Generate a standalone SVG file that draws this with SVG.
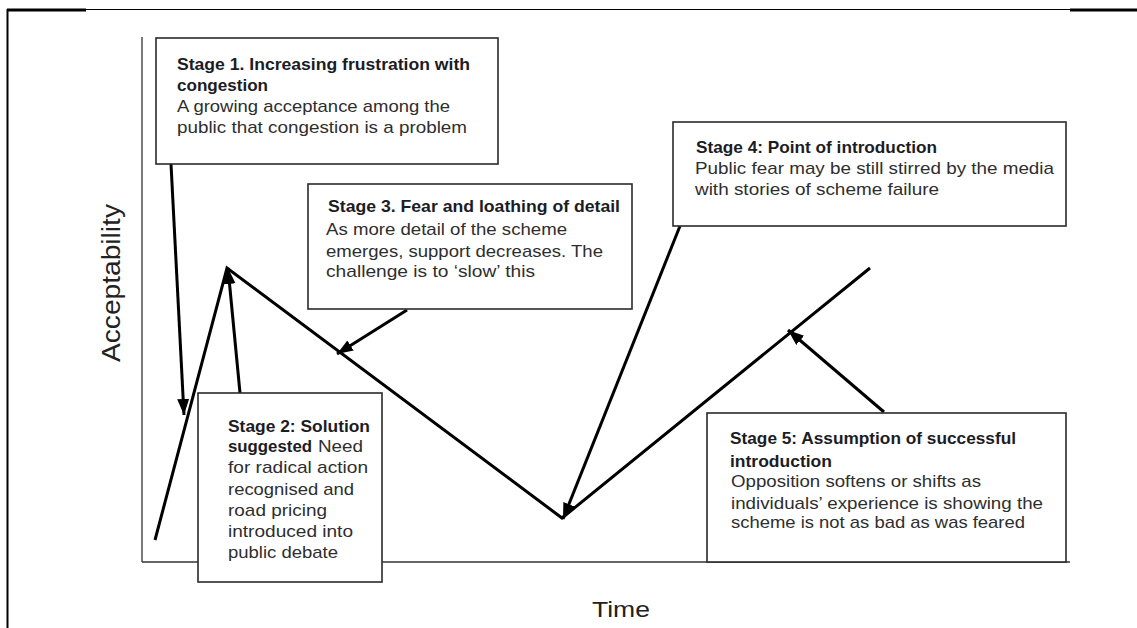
<svg xmlns="http://www.w3.org/2000/svg" width="1137" height="628" viewBox="0 0 1137 628">
  <style>
    .frame { stroke: #000; fill: none; }
    .axis { stroke: #333; stroke-width: 1.3; fill: none; }
    .box { fill: #fff; stroke: #2a2a2a; stroke-width: 1.6; }
    .curve { stroke: #000; stroke-width: 3; fill: none; stroke-linejoin: miter; }
    .conn { stroke: #000; stroke-width: 3; fill: none; marker-end: url(#arrow); }
    .hd { font-family: "Liberation Sans", "DejaVu Sans", sans-serif; font-size: 17px; font-weight: bold; fill: #1c1c24; }
    .tx { font-family: "Liberation Sans", "DejaVu Sans", sans-serif; font-size: 17px; fill: #2e2e2e; }
    .axlabel { font-family: "Liberation Sans", "DejaVu Sans", sans-serif; fill: #222; }
  </style>
  <defs>
    <marker id="arrow" markerUnits="userSpaceOnUse" markerWidth="18" markerHeight="14" refX="16" refY="6" orient="auto">
      <path d="M0,0 L16,6 L0,12 Z" fill="#000"/>
    </marker>
  </defs>

  <rect width="1137" height="628" fill="#fff"/>

  <!-- page frame -->
  <g id="frame">
    <line class="frame" x1="7" y1="9.5" x2="1137" y2="9.5" stroke-width="1"/>
    <line class="frame" x1="7" y1="10" x2="86" y2="10" stroke-width="3"/>
    <line class="frame" x1="1070" y1="10" x2="1137" y2="10" stroke-width="3"/>
    <line class="frame" x1="7.5" y1="9" x2="7.5" y2="628" stroke-width="2"/>
  </g>

  <!-- axes -->
  <g id="axes">
    <line class="axis" x1="142" y1="37" x2="142" y2="562"/>
    <line class="axis" x1="142" y1="562" x2="1070" y2="562"/>
    <text class="axlabel" font-size="25" text-anchor="middle" transform="translate(120,283) rotate(-90)" textLength="158" lengthAdjust="spacingAndGlyphs">Acceptability</text>
    <text class="axlabel" font-size="22" x="592" y="617" textLength="58" lengthAdjust="spacingAndGlyphs">Time</text>
  </g>

  <!-- acceptability curve -->
  <g id="curve">
    <polyline class="curve" points="155,540 227,268 562,518 870,268"/>
  </g>

  <!-- connectors from stage boxes to the curve -->
  <g id="connectors">
    <line class="conn" x1="171" y1="164" x2="184" y2="415"/>
    <line class="conn" x1="240" y1="393" x2="228" y2="268"/>
    <line class="conn" x1="407" y1="310" x2="337" y2="354"/>
    <line class="conn" x1="680" y1="226" x2="563" y2="519"/>
    <line class="conn" x1="884" y1="412" x2="788" y2="330"/>
  </g>

  <g id="stage1">
    <rect class="box" x="156" y="38" width="342" height="126"/>
    <text class="hd" x="177" y="70" textLength="293" lengthAdjust="spacingAndGlyphs">Stage 1. Increasing frustration with</text>
    <text class="hd" x="177" y="91" textLength="91" lengthAdjust="spacingAndGlyphs">congestion</text>
    <text class="tx" x="177" y="112" textLength="273" lengthAdjust="spacingAndGlyphs">A growing acceptance among the</text>
    <text class="tx" x="177" y="133" textLength="290" lengthAdjust="spacingAndGlyphs">public that congestion is a problem</text>
  </g>

  <g id="stage2">
    <rect class="box" x="198" y="393" width="184" height="189"/>
    <text class="hd" x="228" y="432" textLength="142" lengthAdjust="spacingAndGlyphs">Stage 2: Solution</text>
    <text class="hd" x="228" y="452" textLength="84" lengthAdjust="spacingAndGlyphs">suggested</text>
    <text class="tx" x="318" y="452" textLength="45" lengthAdjust="spacingAndGlyphs">Need</text>
    <text class="tx" x="228" y="473" textLength="140" lengthAdjust="spacingAndGlyphs">for radical action</text>
    <text class="tx" x="228" y="495" textLength="126" lengthAdjust="spacingAndGlyphs">recognised and</text>
    <text class="tx" x="228" y="516" textLength="99" lengthAdjust="spacingAndGlyphs">road pricing</text>
    <text class="tx" x="228" y="537" textLength="125" lengthAdjust="spacingAndGlyphs">introduced into</text>
    <text class="tx" x="228" y="558" textLength="110" lengthAdjust="spacingAndGlyphs">public debate</text>
  </g>

  <g id="stage3">
    <rect class="box" x="308" y="184" width="324" height="125"/>
    <text class="hd" x="328" y="212" textLength="292" lengthAdjust="spacingAndGlyphs">Stage 3. Fear and loathing of detail</text>
    <text class="tx" x="326" y="235" textLength="241" lengthAdjust="spacingAndGlyphs">As more detail of the scheme</text>
    <text class="tx" x="326" y="257" textLength="277" lengthAdjust="spacingAndGlyphs">emerges, support decreases. The</text>
    <text class="tx" x="326" y="277" textLength="209" lengthAdjust="spacingAndGlyphs">challenge is to ‘slow’ this</text>
  </g>

  <g id="stage4">
    <rect class="box" x="673" y="122" width="393" height="104"/>
    <text class="hd" x="696" y="153" textLength="241" lengthAdjust="spacingAndGlyphs">Stage 4: Point of introduction</text>
    <text class="tx" x="695" y="174" textLength="359" lengthAdjust="spacingAndGlyphs">Public fear may be still stirred by the media</text>
    <text class="tx" x="695" y="195" textLength="244" lengthAdjust="spacingAndGlyphs">with stories of scheme failure</text>
  </g>

  <g id="stage5">
    <rect class="box" x="707" y="413" width="359" height="149"/>
    <text class="hd" x="730" y="444" textLength="286" lengthAdjust="spacingAndGlyphs">Stage 5: Assumption of successful</text>
    <text class="hd" x="730" y="467" textLength="102" lengthAdjust="spacingAndGlyphs">introduction</text>
    <text class="tx" x="731" y="487" textLength="250" lengthAdjust="spacingAndGlyphs">Opposition softens or shifts as</text>
    <text class="tx" x="731" y="509" textLength="312" lengthAdjust="spacingAndGlyphs">individuals’ experience is showing the</text>
    <text class="tx" x="731" y="528" textLength="294" lengthAdjust="spacingAndGlyphs">scheme is not as bad as was feared</text>
  </g>
</svg>
